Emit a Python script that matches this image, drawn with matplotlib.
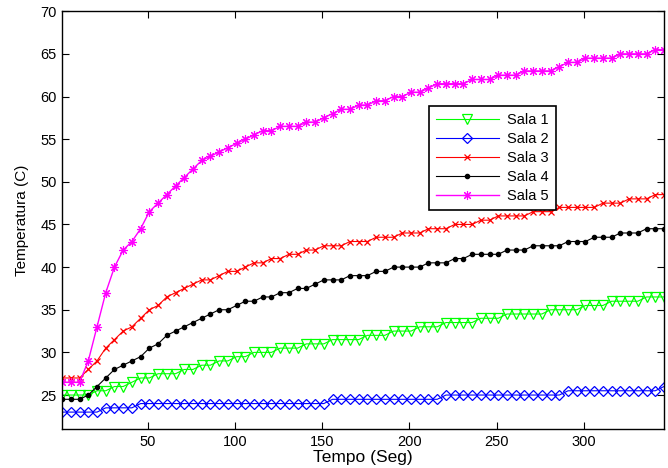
import numpy as np
import matplotlib.pyplot as plt

plt.rcParams['font.family'] = ['Liberation Sans', 'DejaVu Sans']

# tempo de amostragem (s), uma leitura a cada 5 s
tempo = np.arange(70) * 5 + 1

sala1 = [25, 25, 25, 25, 25.5, 25.5, 26, 26, 26.5, 27, 27, 27.5, 27.5, 27.5, 28, 28,
         28.5, 28.5, 29, 29, 29.5, 29.5, 30, 30, 30, 30.5, 30.5, 30.5, 31, 31, 31,
         31.5, 31.5, 31.5, 31.5, 32, 32, 32, 32.5, 32.5, 32.5, 33, 33, 33, 33.5, 33.5,
         33.5, 33.5, 34, 34, 34, 34.5, 34.5, 34.5, 34.5, 34.5, 35, 35, 35, 35, 35.5,
         35.5, 35.5, 36, 36, 36, 36, 36.5, 36.5, 36.5]
sala2 = [23, 23, 23, 23, 23, 23.5, 23.5, 23.5, 23.5] + [24] * 22 + [24.5] * 13 + \
        [25] * 14 + [25.5] * 11 + [26]
sala3 = [27, 27, 27, 28, 29, 30.5, 31.5, 32.5, 33, 34, 35, 35.5, 36.5, 37, 37.5, 38,
         38.5, 38.5, 39, 39.5, 39.5, 40, 40.5, 40.5, 41, 41, 41.5, 41.5, 42, 42, 42.5,
         42.5, 42.5, 43, 43, 43, 43.5, 43.5, 43.5, 44, 44, 44, 44.5, 44.5, 44.5, 45,
         45, 45, 45.5, 45.5, 46, 46, 46, 46, 46.5, 46.5, 46.5, 47, 47, 47, 47, 47,
         47.5, 47.5, 47.5, 48, 48, 48, 48.5, 48.5]
sala4 = [24.5, 24.5, 24.5, 25, 26, 27, 28, 28.5, 29, 29.5, 30.5, 31, 32, 32.5, 33,
         33.5, 34, 34.5, 35, 35, 35.5, 36, 36, 36.5, 36.5, 37, 37, 37.5, 37.5, 38,
         38.5, 38.5, 38.5, 39, 39, 39, 39.5, 39.5, 40, 40, 40, 40, 40.5, 40.5, 40.5,
         41, 41, 41.5, 41.5, 41.5, 41.5, 42, 42, 42, 42.5, 42.5, 42.5, 42.5, 43, 43,
         43, 43.5, 43.5, 43.5, 44, 44, 44, 44.5, 44.5, 44.5]
sala5 = [26.5, 26.5, 26.5, 29, 33, 37, 40, 42, 43, 44.5, 46.5, 47.5, 48.5, 49.5, 50.5,
         51.5, 52.5, 53, 53.5, 54, 54.5, 55, 55.5, 56, 56, 56.5, 56.5, 56.5, 57, 57,
         57.5, 58, 58.5, 58.5, 59, 59, 59.5, 59.5, 60, 60, 60.5, 60.5, 61, 61.5, 61.5,
         61.5, 61.5, 62, 62, 62, 62.5, 62.5, 62.5, 63, 63, 63, 63, 63.5, 64, 64, 64.5,
         64.5, 64.5, 64.5, 65, 65, 65, 65, 65.5, 65.5]

fig = plt.figure(figsize=(6.68, 4.68), dpi=100)
ax = fig.add_axes([0.093, 0.083, 0.901, 0.893])

ax.plot(tempo, sala1, color='#00ff00', lw=0.8, marker='v', ms=7.5, mfc='none', mew=0.9, label='Sala 1')
ax.plot(tempo, sala2, color='#0000ff', lw=0.8, marker='D', ms=5.5, mfc='none', mew=0.9, label='Sala 2')
ax.plot(tempo, sala3, color='#ff0000', lw=0.8, marker='x', ms=4, mew=0.9, label='Sala 3')
ax.plot(tempo, sala4, color='black', lw=0.8, marker='.', ms=6, label='Sala 4')
ax.plot(tempo, sala5, color='#ff00ff', lw=1.0, marker=(8, 2, 0), ms=6.5, mew=0.8, label='Sala 5')

ax.set_xlim(1, 346)
ax.set_ylim(21, 70)
ax.set_xticks([50, 100, 150, 200, 250, 300])
ax.set_yticks(range(25, 71, 5))
ax.tick_params(direction='in', top=True, right=True, length=5, labelsize=10.5, pad=4)
for s in ax.spines.values():
    s.set_linewidth(1.0)

ax.set_xlabel('Tempo (Seg)', fontsize=12.5, labelpad=1)
ax.set_ylabel('Temperatura (C)', fontsize=11, labelpad=8)

leg = ax.legend(loc='upper left', bbox_to_anchor=(0.598, 0.79), fontsize=10.5,
                handlelength=4.3, labelspacing=0.35, borderpad=0.45, handletextpad=0.6,
                fancybox=False, framealpha=1, edgecolor='black')
leg.get_frame().set_linewidth(1.2)

fig.savefig('out.png', dpi=100)
